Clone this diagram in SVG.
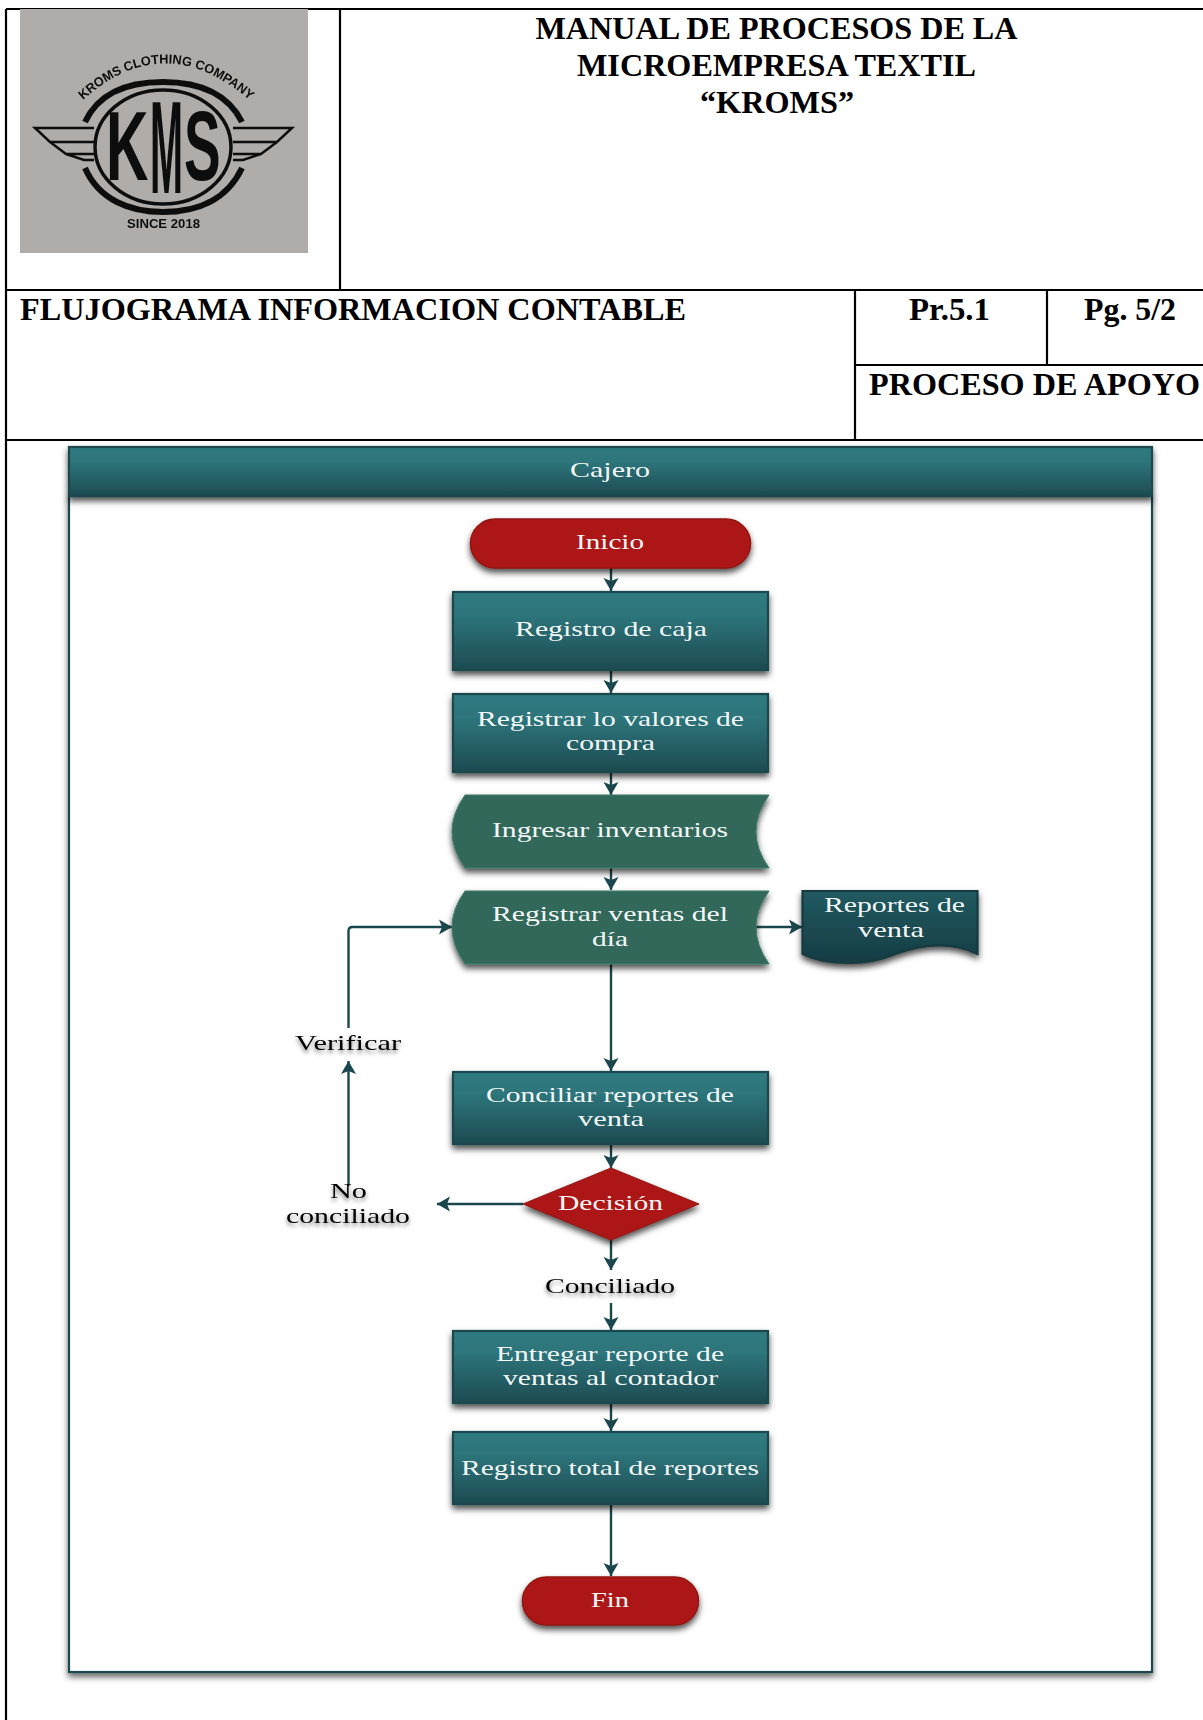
<svg xmlns="http://www.w3.org/2000/svg" width="1203" height="1720" viewBox="0 0 1203 1720">
<style>
.grid{stroke:#000;stroke-width:2.2;fill:none}
.h{font-family:"Liberation Serif","Times New Roman",serif;font-weight:bold;font-size:32px;fill:#000}
.t{font-family:"Liberation Serif","Times New Roman",serif;font-size:22px;fill:#f4f8f8;text-anchor:start}
.l{font-family:"Liberation Serif","Times New Roman",serif;font-size:22px;fill:#000;filter:url(#ts)}
.proc{fill:url(#teal);stroke:#1a474d;stroke-width:2.2;filter:url(#sh)}
.red{fill:#ad1514;stroke:#931312;stroke-width:1.5;filter:url(#sh)}
.tape{fill:#32675a;stroke:#3f7a6b;stroke-width:1;filter:url(#sh)}
.conn{fill:none;stroke:#1a474d;stroke-width:2.4}
.lg{fill:none;stroke:#111;}
.ls{font-family:"Liberation Sans",Arial,sans-serif;font-weight:bold;fill:#111}
</style>
<defs>
<linearGradient id="teal" x1="0" y1="0" x2="0" y2="1"><stop offset="0" stop-color="#2f7a80"/><stop offset=".3" stop-color="#2d757b"/><stop offset="1" stop-color="#1d4b51"/></linearGradient>
<linearGradient id="doc" x1="0" y1="0" x2="0" y2="1"><stop offset="0" stop-color="#215a60"/><stop offset="1" stop-color="#163c44"/></linearGradient>
<filter id="sh" x="-10%" y="-20%" width="120%" height="150%"><feDropShadow dx="0" dy="4" stdDeviation="3" flood-color="#000" flood-opacity=".7"/></filter>
<filter id="lane" x="-3%" y="-3%" width="106%" height="106%"><feDropShadow dx="0" dy="4" stdDeviation="3" flood-color="#000" flood-opacity=".6"/></filter>
<filter id="ts" x="-10%" y="-30%" width="120%" height="170%"><feDropShadow dx="0" dy="3" stdDeviation="2.2" flood-color="#000" flood-opacity=".5"/></filter>
<filter id="soft" x="-5%" y="-5%" width="110%" height="110%"><feGaussianBlur stdDeviation=".6"/></filter>
<marker id="arr" markerUnits="userSpaceOnUse" markerWidth="18" markerHeight="18" refX="14" refY="9" orient="auto"><path d="M14 9L1 1.500L4 9L1 16.500Z" fill="#1a474d"/></marker>
</defs>
<rect width="1203" height="1720" fill="#fff"/>

<g id="header-table">
<path class="grid" d="M6 9H1203M6 9V1720M6 290H1203M6 440H1203M340 9V290M855 290V440M1047 290V365M855 365H1203"/>
<text class="h" x="535.500" y="39" textLength="482" lengthAdjust="spacingAndGlyphs">MANUAL DE PROCESOS DE LA</text>
<text class="h" x="577" y="76" textLength="399" lengthAdjust="spacingAndGlyphs">MICROEMPRESA TEXTIL</text>
<text class="h" x="700" y="113" textLength="154" lengthAdjust="spacingAndGlyphs">“KROMS”</text>
<text class="h" x="20" y="320" textLength="666" lengthAdjust="spacingAndGlyphs">FLUJOGRAMA INFORMACION CONTABLE</text>
<text class="h" x="909" y="320" textLength="81" lengthAdjust="spacingAndGlyphs">Pr.5.1</text>
<text class="h" x="1084" y="320" textLength="92" lengthAdjust="spacingAndGlyphs">Pg. 5/2</text>
<text class="h" x="869" y="395" textLength="331" lengthAdjust="spacingAndGlyphs">PROCESO DE APOYO</text>
</g>

<g id="logo">
<rect x="20" y="9" width="288" height="244" fill="#b0acaa"/>
<g filter="url(#soft)">
<path class="lg" stroke-width="6" d="M85 122C99 92 130 82 163 82C197 82 227 92 242 122M85 168C99 200 130 212 163 212C197 212 227 200 242 168"/>
<ellipse class="lg" stroke-width="3.500" cx="163" cy="147" rx="68" ry="57"/>
<path class="lg" stroke-width="2.500" d="M94 128H35L50 142H94M50 142L66 154H94M66 154L84 160H94M233 128H292L277 142H233M277 142L261 154H233M261 154L243 160H233"/>
<text class="ls" font-size="98" transform="translate(106 180) scale(.6 1)">K</text>
<text class="ls" font-size="132" transform="translate(150 193) scale(.3 1)">M</text>
<text class="ls" font-size="98" transform="translate(184 180) scale(.56 1)">S</text>
<path id="logoarc" fill="none" d="M83 100Q163 28 247 98"/>
<text class="ls" font-size="13"><textPath href="#logoarc" textLength="186" lengthAdjust="spacingAndGlyphs">KROMS CLOTHING COMPANY</textPath></text>
<text class="ls" font-size="13" x="127" y="228" textLength="73" lengthAdjust="spacingAndGlyphs">SINCE 2018</text>
</g>
</g>

<g id="lane">
<rect x="69" y="496" width="1083" height="1176" fill="#fff" stroke="#1a474d" stroke-width="2.2" filter="url(#lane)"/>
<rect class="proc" x="69" y="447" width="1083" height="49"/>
<text class="t" x="570" y="477" textLength="80" lengthAdjust="spacingAndGlyphs">Cajero</text>
</g>

<g id="connectors">
<path class="conn" marker-end="url(#arr)" d="M611 568V591"/>
<path class="conn" marker-end="url(#arr)" d="M611 670V693"/>
<path class="conn" marker-end="url(#arr)" d="M611 772V795"/>
<path class="conn" marker-end="url(#arr)" d="M611 868V890"/>
<path class="conn" marker-end="url(#arr)" d="M611 964V1071"/>
<path class="conn" marker-end="url(#arr)" d="M611 1145V1168"/>
<path class="conn" marker-end="url(#arr)" d="M611 1240V1270"/>
<path class="conn" marker-end="url(#arr)" d="M611 1303V1330"/>
<path class="conn" marker-end="url(#arr)" d="M611 1404V1431"/>
<path class="conn" marker-end="url(#arr)" d="M611 1505V1576"/>
<path class="conn" marker-end="url(#arr)" d="M756 927H802"/>
<path class="conn" marker-end="url(#arr)" d="M348.500 1028V931Q348.500 927 352.500 927H452"/>
<path class="conn" marker-end="url(#arr)" d="M348.500 1186V1061"/>
<path class="conn" marker-end="url(#arr)" d="M523 1204H437"/>
</g>

<g id="inicio"><rect class="red" x="470.500" y="519" width="280" height="49" rx="24.500"/><text class="t" x="576" y="549" textLength="68" lengthAdjust="spacingAndGlyphs">Inicio</text></g>
<g id="registro-caja"><rect class="proc" x="453" y="592" width="315" height="78"/><text class="t" x="515" y="636" textLength="192" lengthAdjust="spacingAndGlyphs">Registro de caja</text></g>
<g id="registrar-valores"><rect class="proc" x="453" y="694" width="315" height="78"/><text class="t" x="477" y="726" textLength="267" lengthAdjust="spacingAndGlyphs">Registrar lo valores de</text><text class="t" x="566" y="750" textLength="89" lengthAdjust="spacingAndGlyphs">compra</text></g>
<g id="ingresar-inventarios"><path class="tape" d="M465 795H769Q743 831.500 769 868H465Q439 831.500 465 795Z"/><text class="t" x="492" y="837" textLength="236" lengthAdjust="spacingAndGlyphs">Ingresar inventarios</text></g>
<g id="registrar-ventas"><path class="tape" d="M465 891H769Q743 927 769 964H465Q439 927 465 891Z"/><text class="t" x="492" y="921" textLength="236" lengthAdjust="spacingAndGlyphs">Registrar ventas del</text><text class="t" x="592" y="946" textLength="36" lengthAdjust="spacingAndGlyphs">día</text></g>
<g id="reportes-venta"><path d="M802.500 891H977.500V954C955 942 925 943 895 954C870 965 830 967 802.500 954Z" fill="url(#doc)" stroke="#143a40" stroke-width="2.2" filter="url(#sh)"/><text class="t" x="824" y="912" textLength="141" lengthAdjust="spacingAndGlyphs">Reportes de</text><text class="t" x="858" y="937" textLength="66" lengthAdjust="spacingAndGlyphs">venta</text></g>
<g id="verificar"><text class="l" x="295" y="1050" textLength="106" lengthAdjust="spacingAndGlyphs">Verificar</text></g>
<g id="conciliar"><rect class="proc" x="453" y="1072" width="315" height="72"/><text class="t" x="486" y="1102" textLength="248" lengthAdjust="spacingAndGlyphs">Conciliar reportes de</text><text class="t" x="578" y="1126" textLength="66" lengthAdjust="spacingAndGlyphs">venta</text></g>
<g id="decision"><path d="M611 1168L699 1204L611 1240L523 1204Z" fill="#ad1514" stroke="#931312" stroke-width="1" filter="url(#sh)"/><text class="t" x="558" y="1210" textLength="105" lengthAdjust="spacingAndGlyphs">Decisión</text></g>
<g id="no-conciliado"><text class="l" x="330" y="1198" textLength="37" lengthAdjust="spacingAndGlyphs">No</text><text class="l" x="286" y="1223" textLength="124" lengthAdjust="spacingAndGlyphs">conciliado</text></g>
<g id="conciliado"><text class="l" x="545" y="1293" textLength="130" lengthAdjust="spacingAndGlyphs">Conciliado</text></g>
<g id="entregar"><rect class="proc" x="453" y="1331" width="315" height="72"/><text class="t" x="496" y="1361" textLength="228" lengthAdjust="spacingAndGlyphs">Entregar reporte de</text><text class="t" x="503" y="1385" textLength="215" lengthAdjust="spacingAndGlyphs">ventas al contador</text></g>
<g id="registro-total"><rect class="proc" x="453" y="1432" width="315" height="72"/><text class="t" x="461" y="1475" textLength="298" lengthAdjust="spacingAndGlyphs">Registro total de reportes</text></g>
<g id="fin"><rect class="red" x="522.500" y="1577" width="176" height="48" rx="24"/><text class="t" x="591" y="1607" textLength="38" lengthAdjust="spacingAndGlyphs">Fin</text></g>
</svg>
